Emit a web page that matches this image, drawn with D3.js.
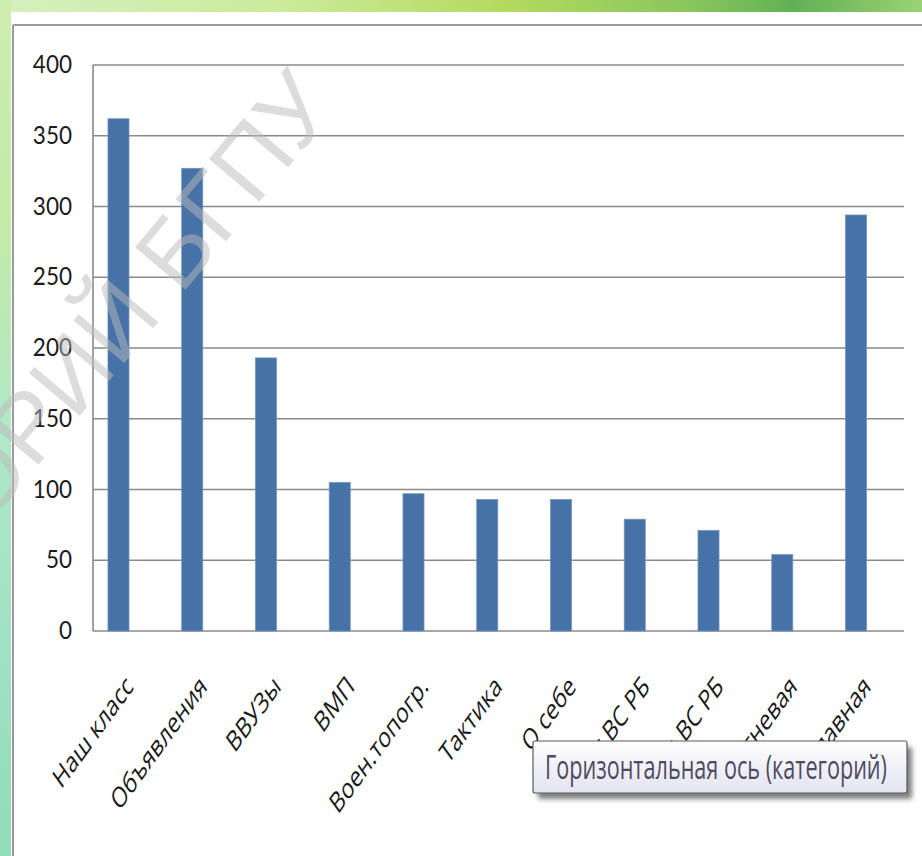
<!DOCTYPE html>
<html>
<head>
<meta charset="utf-8">
<script src="https://cdn.jsdelivr.net/npm/d3@7/dist/d3.min.js"></script>
<style>
  html, body { margin: 0; padding: 0; background: #fff; }
  svg { display: block; }
</style>
</head>
<body>
<svg id="chart" width="922" height="856"></svg>
<script>
// ---- data ----
const categories = ["Наш класс", "Объявления", "ВВУЗы", "ВМП", "Воен.топогр.", "Тактика",
                    "О себе", "Ист.ВС РБ", "Вид ВС РБ", "Огневая", "Главная"];
const values = [362, 327, 193, 105, 97, 93, 93, 79, 71, 54, 294];
const yTicks = [0, 50, 100, 150, 200, 250, 300, 350, 400];
const tooltipText = "Горизонтальная ось (категорий)";
const watermarkText = "РЕПОЗИТОРИЙ БГПУ";

const svg = d3.select("#chart");
const defs = svg.append("defs");

// background gradients (slide frame)
const gTop = defs.append("linearGradient").attr("id", "gTop").attr("x1", "0").attr("x2", "1").attr("y1", "0").attr("y2", "0");
[["0", "#d6efc0"], ["0.3", "#cdeb9c"], ["0.55", "#b3da5e"], ["0.75", "#88c65e"], ["0.86", "#62b055"], ["1", "#9ad274"]]
  .forEach(([o, c]) => gTop.append("stop").attr("offset", o).attr("stop-color", c));
const gLeft = defs.append("linearGradient").attr("id", "gLeft").attr("x1", "0").attr("x2", "0").attr("y1", "0").attr("y2", "1");
[["0", "#cdeeae"], ["0.25", "#c4eaa6"], ["0.5", "#b2e8c6"], ["0.75", "#9fe2c4"], ["1", "#92dcb8"]]
  .forEach(([o, c]) => gLeft.append("stop").attr("offset", o).attr("stop-color", c));
const gTip = defs.append("linearGradient").attr("id", "gTip").attr("x1", "0").attr("x2", "0").attr("y1", "0").attr("y2", "1");
[["0", "#ffffff"], ["1", "#e2e4f0"]].forEach(([o, c]) => gTip.append("stop").attr("offset", o).attr("stop-color", c));
const blur = defs.append("filter").attr("id", "shadow").attr("x", "-10%").attr("y", "-30%").attr("width", "130%").attr("height", "180%");
blur.append("feGaussianBlur").attr("stdDeviation", 2.5);

svg.append("rect").attr("x", 0).attr("y", 0).attr("width", 922).attr("height", 12).attr("fill", "url(#gTop)");
svg.append("rect").attr("x", 0).attr("y", 0).attr("width", 11).attr("height", 856).attr("fill", "url(#gLeft)");

// chart frame
svg.append("line").attr("x1", 13).attr("x2", 922).attr("y1", 25).attr("y2", 25).attr("stroke", "#9a9a9a").attr("stroke-width", 2);
svg.append("line").attr("x1", 13).attr("x2", 13).attr("y1", 25).attr("y2", 856).attr("stroke", "#9a9a9a").attr("stroke-width", 2);

// ---- scales ----
const plotLeft = 93, plotRight = 904;
const y = d3.scaleLinear().domain([0, 400]).range([631, 65]);
const x = d3.scaleBand().domain(categories).range([81.6, 892.9]).paddingInner(0.715).paddingOuter(0.3575);

// gridlines
svg.append("g").selectAll("line").data(yTicks).join("line")
  .attr("x1", plotLeft).attr("x2", plotRight)
  .attr("y1", d => y(d)).attr("y2", d => y(d))
  .attr("stroke", "#8a8a8a").attr("stroke-width", 1.6);
// value axis line
svg.append("line").attr("x1", plotLeft).attr("x2", plotLeft).attr("y1", y(400)).attr("y2", y(0))
  .attr("stroke", "#8a8a8a").attr("stroke-width", 1.6);

// y tick labels
svg.append("g").selectAll("text").data(yTicks).join("text")
  .attr("transform", d => `translate(72,${y(d) - 1}) scale(0.9,1)`)
  .attr("text-anchor", "end").attr("dy", "0.36em")
  .attr("font-family", "Lato, 'Open Sans', sans-serif").attr("font-size", 25)
  .attr("fill", "#1a1a1a")
  .text(d => d);

// bars
svg.append("g").selectAll("rect").data(values).join("rect")
  .attr("x", (d, i) => x(categories[i]))
  .attr("width", x.bandwidth())
  .attr("y", d => y(d))
  .attr("height", d => y(0) - y(d))
  .attr("fill", "#4672a7")
  .attr("stroke", "#6f93c0").attr("stroke-width", 0.8);

// category labels
svg.append("g").selectAll("text").data(categories).join("text")
  .attr("transform", d => `translate(${x(d) + x.bandwidth() / 2 + 11},${681}) scale(0.72,1) rotate(-45)`)
  .attr("text-anchor", "end").attr("dy", "0.35em")
  .attr("font-family", "'Open Sans', sans-serif").attr("font-size", 28.5)
  .attr("fill", "#1a1a1a")
  .text(d => d);

// watermark
svg.append("text")
  .attr("transform", "translate(338,108) rotate(-50)")
  .attr("text-anchor", "end")
  .attr("font-family", "'Liberation Sans', Arial, sans-serif").attr("font-size", 96)
  .attr("fill", "rgb(185,185,185)").attr("fill-opacity", 0.5)
  .text(watermarkText);

// tooltip
const tip = svg.append("g");
tip.append("rect").attr("x", 538).attr("y", 747).attr("width", 374).attr("height", 52).attr("rx", 2)
  .attr("fill", "#555").attr("opacity", 0.75).attr("filter", "url(#shadow)");
tip.append("rect").attr("x", 533).attr("y", 741).attr("width", 374).attr("height", 52).attr("rx", 2)
  .attr("fill", "url(#gTip)").attr("stroke", "#5a5a5a").attr("stroke-width", 1.2);
tip.append("text").attr("x", 545).attr("y", 779)
  .attr("font-family", "'Open Sans', sans-serif").attr("font-size", 33)
  .attr("textLength", 342).attr("lengthAdjust", "spacingAndGlyphs")
  .attr("fill", "#4e4a62")
  .text(tooltipText);
</script>
</body>
</html>
